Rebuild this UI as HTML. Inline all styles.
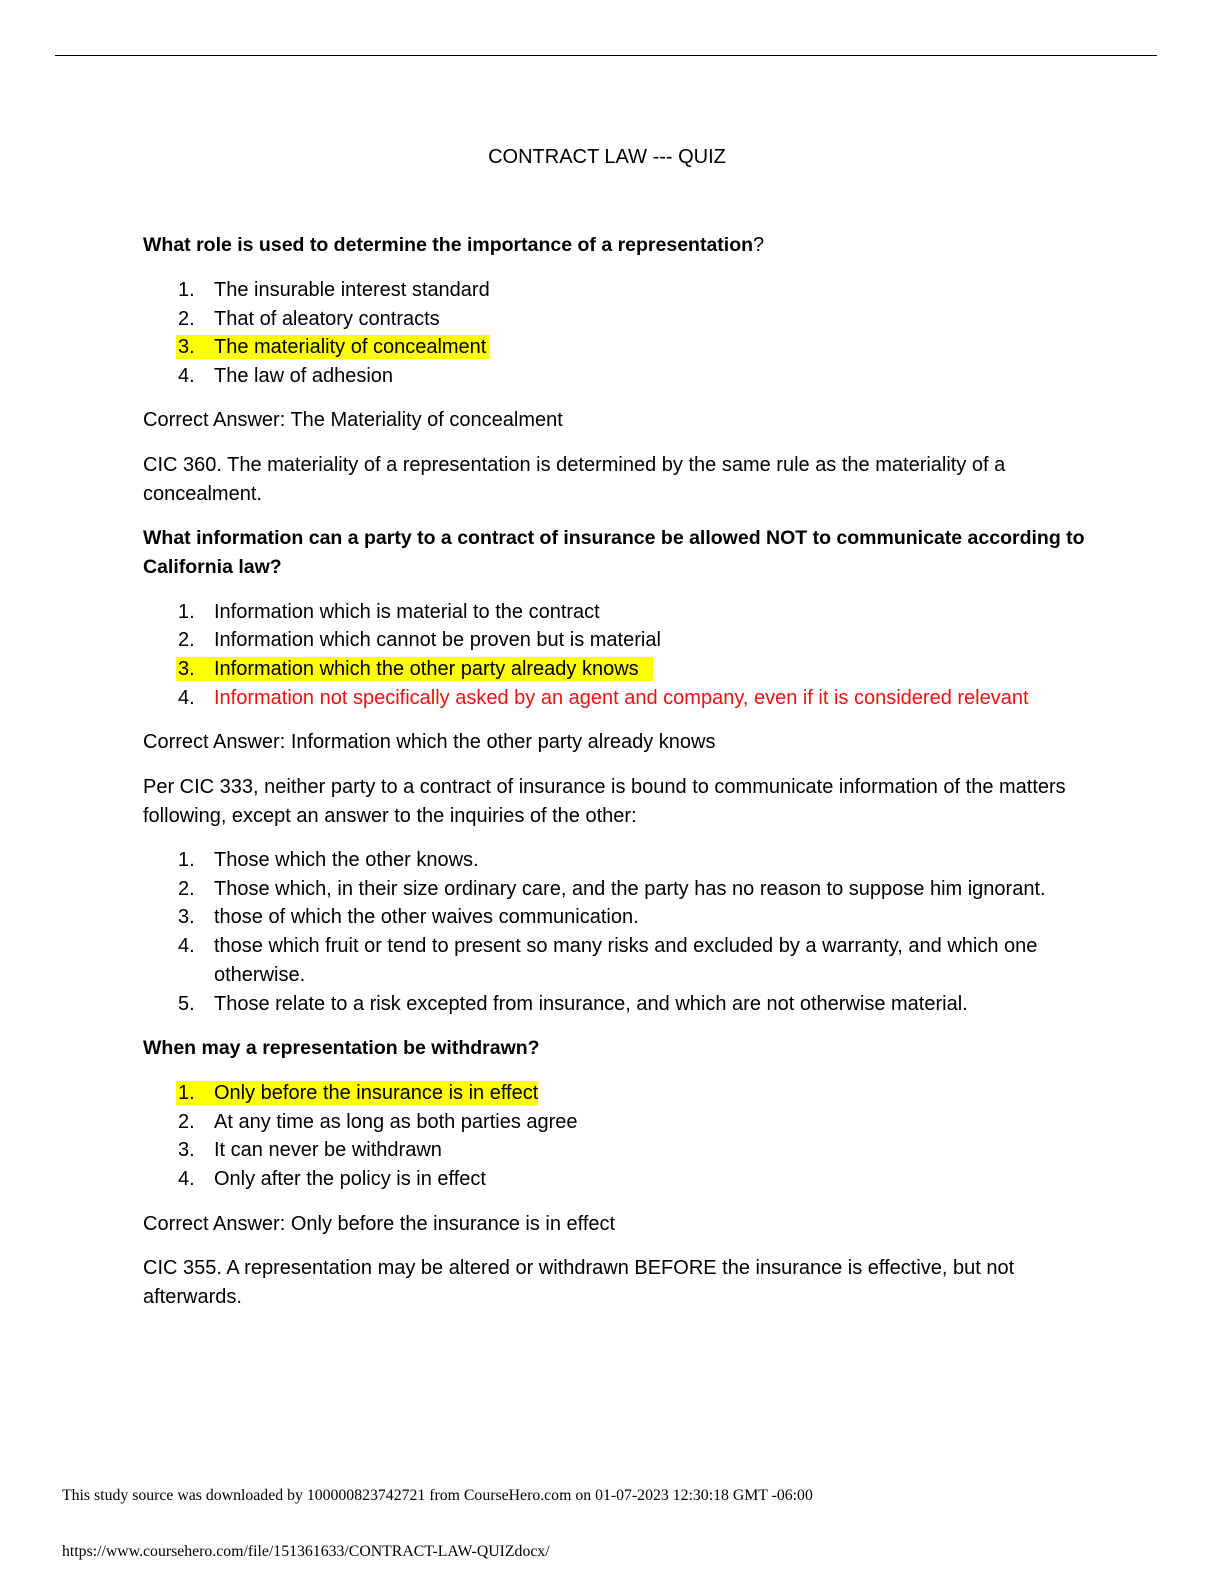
<!DOCTYPE html>
<html><head><meta charset="utf-8"><style>
body{margin:0;width:1224px;height:1584px;background:#fff;position:relative;font-family:"Liberation Sans",sans-serif;color:#000;overflow:hidden}
.l{position:absolute;white-space:nowrap;font-size:20px;line-height:24px}
.b{font-weight:bold;font-size:19.5px}
.b2{font-weight:bold}
.n{position:absolute;white-space:nowrap;font-size:20px;line-height:24px;left:178px}
.t{position:absolute;white-space:nowrap;font-size:20px;line-height:24px;left:214px}
.hl{position:absolute;background:#ffff00;height:24px;left:176px}
.red{color:#ee1111}
.f{position:absolute;white-space:nowrap;font-family:"Liberation Serif",serif;font-size:15.8px}
</style></head><body>
<div style="position:absolute;left:55px;top:55px;width:1102px;height:1px;background:#000"></div>
<div class="l" style="left:0;width:1214px;text-align:center;top:145px">CONTRACT LAW --- QUIZ</div>

<div class="l" style="left:143px;top:233px"><span class="b2" style="font-size:19.5px">What role is used to determine the importance of a representation</span>?</div>
<div class="n" style="top:278px">1.</div><div class="t" style="top:278px">The insurable interest standard</div>
<div class="n" style="top:307px">2.</div><div class="t" style="top:307px">That of aleatory contracts</div>
<div class="hl" style="top:335px;width:314px"></div>
<div class="n" style="top:335px">3.</div><div class="t" style="top:335px">The materiality of concealment</div>
<div class="n" style="top:364px">4.</div><div class="t" style="top:364px">The law of adhesion</div>
<div class="l" style="left:143px;top:408px">Correct Answer: The Materiality of concealment</div>
<div class="l" style="left:143px;top:453px">CIC 360. The materiality of a representation is determined by the same rule as the materiality of a</div>
<div class="l" style="left:143px;top:482px">concealment.</div>

<div class="l b" style="left:143px;top:526px">What information can a party to a contract of insurance be allowed NOT to communicate according to</div>
<div class="l b" style="left:143px;top:555px">California law?</div>
<div class="n" style="top:600px">1.</div><div class="t" style="top:600px">Information which is material to the contract</div>
<div class="n" style="top:628px">2.</div><div class="t" style="top:628px">Information which cannot be proven but is material</div>
<div class="hl" style="top:657px;width:477px"></div>
<div class="n" style="top:657px">3.</div><div class="t" style="top:657px">Information which the other party already knows</div>
<div class="n" style="top:686px">4.</div><div class="t red" style="top:686px">Information not specifically asked by an agent and company, even if it is considered relevant</div>
<div class="l" style="left:143px;top:730px">Correct Answer: Information which the other party already knows</div>
<div class="l" style="left:143px;top:775px">Per CIC 333, neither party to a contract of insurance is bound to communicate information of the matters</div>
<div class="l" style="left:143px;top:804px">following, except an answer to the inquiries of the other:</div>
<div class="n" style="top:848px">1.</div><div class="t" style="top:848px">Those which the other knows.</div>
<div class="n" style="top:877px">2.</div><div class="t" style="top:877px">Those which, in their size ordinary care, and the party has no reason to suppose him ignorant.</div>
<div class="n" style="top:905px">3.</div><div class="t" style="top:905px">those of which the other waives communication.</div>
<div class="n" style="top:934px">4.</div><div class="t" style="top:934px">those which fruit or tend to present so many risks and excluded by a warranty, and which one</div>
<div class="t" style="top:963px">otherwise.</div>
<div class="n" style="top:992px">5.</div><div class="t" style="top:992px">Those relate to a risk excepted from insurance, and which are not otherwise material.</div>

<div class="l b" style="left:143px;top:1036px">When may a representation be withdrawn?</div>
<div class="hl" style="top:1081px;width:362px"></div>
<div class="n" style="top:1081px">1.</div><div class="t" style="top:1081px">Only before the insurance is in effect</div>
<div class="n" style="top:1110px">2.</div><div class="t" style="top:1110px">At any time as long as both parties agree</div>
<div class="n" style="top:1138px">3.</div><div class="t" style="top:1138px">It can never be withdrawn</div>
<div class="n" style="top:1167px">4.</div><div class="t" style="top:1167px">Only after the policy is in effect</div>
<div class="l" style="left:143px;top:1212px">Correct Answer: Only before the insurance is in effect</div>
<div class="l" style="left:143px;top:1256px">CIC 355. A representation may be altered or withdrawn BEFORE the insurance is effective, but not</div>
<div class="l" style="left:143px;top:1285px">afterwards.</div>

<div class="f" style="left:62px;top:1487px">This study source was downloaded by 100000823742721 from CourseHero.com on 01-07-2023 12:30:18 GMT -06:00</div>
<div class="f" style="left:62px;top:1543px">https://www.coursehero.com/file/151361633/CONTRACT-LAW-QUIZdocx/</div>
</body></html>
